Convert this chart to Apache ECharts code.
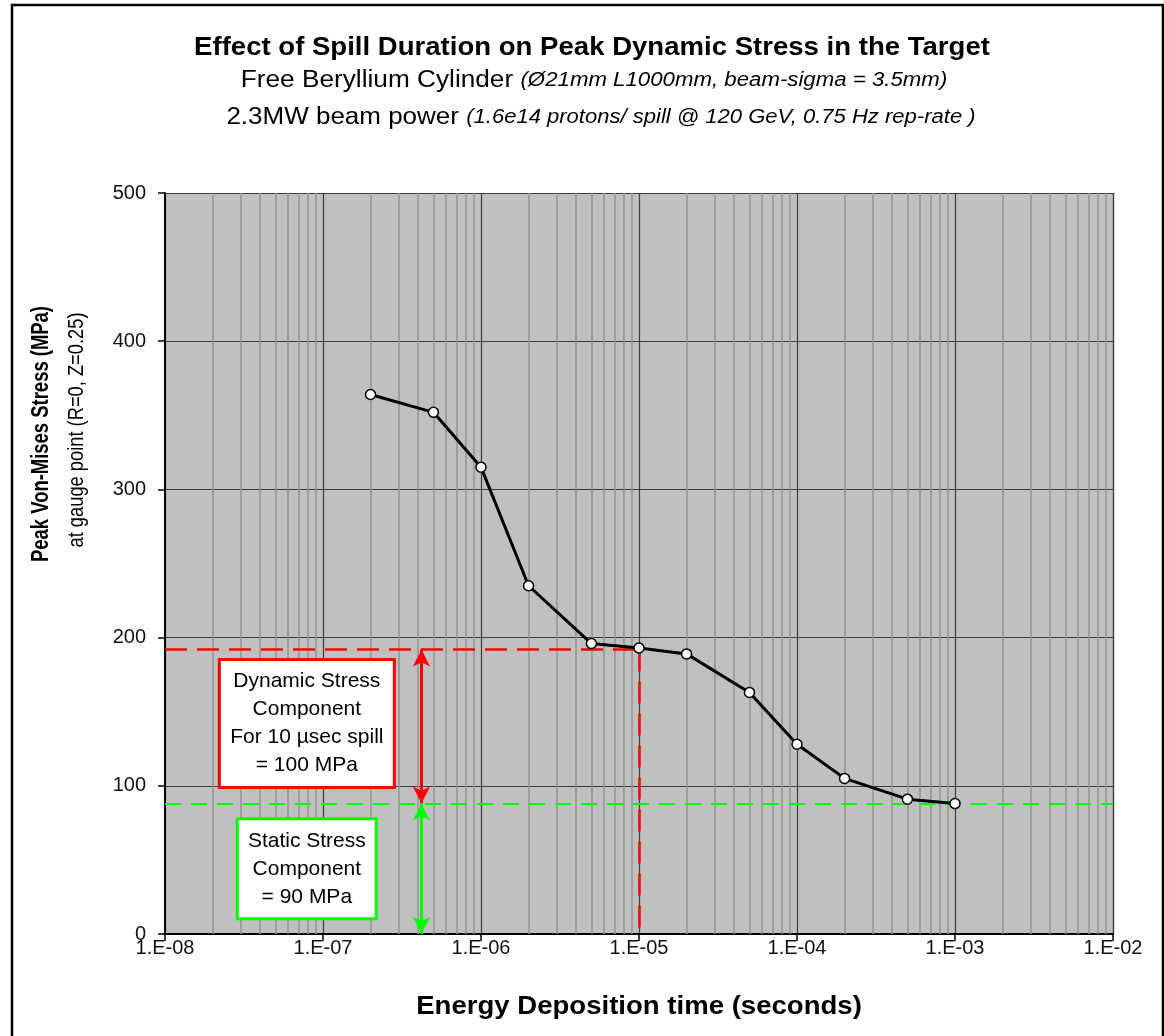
<!DOCTYPE html>
<html>
<head>
<meta charset="utf-8">
<script src="https://cdn.jsdelivr.net/npm/echarts@6/dist/echarts.min.js"></script>
<style>
  html, body { margin: 0; padding: 0; background: #fff; }
  #chart { width: 1164px; height: 1036px; }
</style>
</head>
<body>
<div id="chart"></div>
<script>
// Spill duration (s) vs. peak von-Mises stress (MPa) at the gauge point
const spillTimes = [2e-7, 5e-7, 1e-6, 2e-6, 5e-6, 1e-5, 2e-5, 5e-5, 1e-4, 2e-4, 5e-4, 1e-3];
const peakStress = [364, 352, 315, 235, 196, 193, 189, 163, 128, 105, 91, 88];

// Reference levels for the annotation
const dynamicLevel = 192;     // peak stress for a 10 usec spill
const staticLevel = 88;       // quasi-static stress
const spillMarker = 1e-5;     // 10 usec
const arrowTime = 4.2e-7;     // where the component arrows sit
const dynamicBoxAt = [7.9e-8, 142];
const staticBoxAt = [7.9e-8, 44];

// Axis extents and ticks
const xMin = 1e-8, xMax = 1e-2;
const yMin = 0, yMax = 500, yStep = 100;
const decadeExps = [-8, -7, -6, -5, -4, -3];

// Minor log gridlines at 2..9 within each decade
const minorLines = [];
decadeExps.forEach(function (e) {
  for (let k = 2; k <= 9; k++) {
    const v = k * Math.pow(10, e);
    minorLines.push([{ coord: [v, yMin] }, { coord: [v, yMax] }]);
  }
});

const FONT = 'Liberation Sans, Arial, sans-serif';

function fmtExp(v) {
  const e = Math.round(Math.log10(v));
  const a = Math.abs(e);
  return '1.E' + (e < 0 ? '-' : '+') + (a < 10 ? '0' + a : '' + a);
}

const chart = echarts.init(document.getElementById('chart'), null, { renderer: 'canvas' });

const boxLabel = {
  show: true, position: 'inside',
  fontSize: 21, lineHeight: 28, color: '#000', fontFamily: FONT,
  align: 'center', verticalAlign: 'middle',
  backgroundColor: '#fff', borderWidth: 3
};

const option = {
  animation: false,
  backgroundColor: '#ffffff',
  textStyle: { fontFamily: FONT },
  grid: {
    left: 165, right: 51, top: 193, bottom: 102,
    show: true, backgroundColor: '#c0c0c0', borderWidth: 0
  },
  xAxis: {
    type: 'log', logBase: 10, min: xMin, max: xMax,
    axisLine: { show: true, onZero: false, lineStyle: { color: '#000', width: 2 } },
    axisTick: { show: true, length: 7, lineStyle: { color: '#000', width: 1.5 } },
    axisLabel: { formatter: fmtExp, color: '#111', fontSize: 20, margin: 4, fontFamily: FONT },
    splitLine: { show: true, lineStyle: { color: '#3c3c3c', width: 1.2 } }
  },
  yAxis: {
    type: 'value', min: yMin, max: yMax, interval: yStep,
    axisLine: { show: true, lineStyle: { color: '#000', width: 2 } },
    axisTick: { show: true, length: 7, lineStyle: { color: '#000', width: 1.5 } },
    axisLabel: { color: '#111', fontSize: 20, margin: 19, fontFamily: FONT },
    splitLine: { show: true, lineStyle: { color: '#3c3c3c', width: 1.2 } }
  },
  graphic: [
    {
      type: 'rect', silent: true, z: 100,
      shape: { x: 12, y: 5, width: 1151, height: 1060 },
      style: { fill: 'none', stroke: '#000', lineWidth: 2.5 }
    },
    {
      type: 'text', x: 592, y: 48, scaleX: 1.06, silent: true,
      style: {
        text: 'Effect of Spill Duration on Peak Dynamic Stress in the Target',
        font: 'bold 26px ' + FONT, fill: '#000',
        align: 'center', verticalAlign: 'middle'
      }
    },
    {
      type: 'text', x: 594, y: 81, scaleX: 1.14, silent: true,
      style: {
        text: '{a|Free Beryllium Cylinder }{b|(Ø21mm L1000mm, beam-sigma = 3.5mm)}',
        align: 'center', verticalAlign: 'middle',
        rich: {
          a: { font: '23px ' + FONT, fill: '#000' },
          b: { font: 'italic 19.5px ' + FONT, fill: '#000' }
        }
      }
    },
    {
      type: 'text', x: 601, y: 118, scaleX: 1.13, silent: true,
      style: {
        text: '{a|2.3MW beam power }{b|(1.6e14 protons/ spill @ 120 GeV, 0.75 Hz rep-rate )}',
        align: 'center', verticalAlign: 'middle',
        rich: {
          a: { font: '23px ' + FONT, fill: '#000' },
          b: { font: 'italic 19.5px ' + FONT, fill: '#000' }
        }
      }
    },
    {
      type: 'text', x: 41, y: 434, rotation: Math.PI / 2, scaleX: 0.9, scaleY: 1.15, silent: true,
      style: {
        text: 'Peak Von-Mises Stress (MPa)',
        font: 'bold 20.5px ' + FONT, fill: '#000',
        align: 'center', verticalAlign: 'middle'
      }
    },
    {
      type: 'text', x: 77, y: 430, rotation: Math.PI / 2, scaleX: 0.915, scaleY: 1.1, silent: true,
      style: {
        text: 'at gauge point (R=0, Z=0.25)',
        font: '20px ' + FONT, fill: '#000',
        align: 'center', verticalAlign: 'middle'
      }
    },
    {
      type: 'text', x: 639, y: 1007, scaleX: 1.06, silent: true,
      style: {
        text: 'Energy Deposition time (seconds)',
        font: 'bold 26px ' + FONT, fill: '#000',
        align: 'center', verticalAlign: 'middle'
      }
    }
  ],
  series: [
    {
      // minor log gridlines
      name: 'minor-grid', type: 'line', data: [], z: 1, silent: true,
      markLine: {
        silent: true, symbol: ['none', 'none'], label: { show: false },
        emphasis: { disabled: true },
        lineStyle: { color: '#939393', width: 1.5, type: 'solid' },
        data: minorLines
      }
    },
    {
      // reference levels and component arrows
      name: 'levels', type: 'line', data: [], z: 3, silent: true,
      markLine: {
        silent: true, label: { show: false }, emphasis: { disabled: true },
        symbol: ['none', 'none'],
        data: [
          [
            { coord: [xMin, dynamicLevel], lineStyle: { color: '#ff0000', width: 2.5, type: [22, 10] } },
            { coord: [spillMarker, dynamicLevel] }
          ],
          [
            { coord: [spillMarker, dynamicLevel], lineStyle: { color: '#ff0000', width: 2.5, type: [22, 10] } },
            { coord: [spillMarker, yMin] }
          ],
          [
            { coord: [xMin, staticLevel], lineStyle: { color: '#00ff00', width: 2, type: [16, 10] } },
            { coord: [xMax, staticLevel] }
          ],
          [
            { coord: [arrowTime, dynamicLevel], symbol: 'arrow', symbolSize: [13, 17],
              lineStyle: { color: '#ff0000', width: 3, type: 'solid' }, itemStyle: { color: '#ff0000' } },
            { coord: [arrowTime, staticLevel], symbol: 'arrow', symbolSize: [13, 17] }
          ],
          [
            { coord: [arrowTime, staticLevel], symbol: 'arrow', symbolSize: [13, 17],
              lineStyle: { color: '#00ff00', width: 3, type: 'solid' }, itemStyle: { color: '#00ff00' } },
            { coord: [arrowTime, yMin], symbol: 'arrow', symbolSize: [13, 17] }
          ]
        ]
      },
      markPoint: {
        silent: true, symbol: 'rect', symbolSize: 0,
        data: [
          {
            coord: dynamicBoxAt,
            label: Object.assign({}, boxLabel, {
              formatter: 'Dynamic Stress\nComponent\nFor 10 µsec spill\n= 100 MPa',
              borderColor: '#ff0000', width: 164, padding: [7, 4, 6, 4]
            })
          },
          {
            coord: staticBoxAt,
            label: Object.assign({}, boxLabel, {
              formatter: 'Static Stress\nComponent\n= 90 MPa',
              borderColor: '#00ff00', width: 128, padding: [7, 4, 6, 4]
            })
          }
        ]
      }
    },
    {
      name: 'Peak stress', type: 'line', z: 5,
      data: spillTimes.map(function (t, i) { return [t, peakStress[i]]; }),
      lineStyle: { color: '#000', width: 3 },
      symbol: 'circle', symbolSize: 10,
      itemStyle: { color: '#ffffff', borderColor: '#000', borderWidth: 1.5 },
      showAllSymbol: true
    }
  ]
};

chart.setOption(option);
</script>
</body>
</html>
